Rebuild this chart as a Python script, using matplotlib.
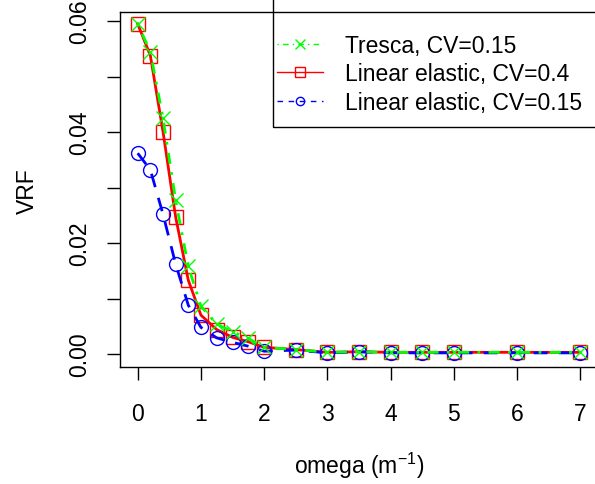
import numpy as np
import matplotlib
matplotlib.use("Agg")
import matplotlib.pyplot as plt
from matplotlib.lines import Line2D
from matplotlib.patches import Rectangle

plt.rcParams['font.family'] = ['Liberation Sans', 'DejaVu Sans']
plt.rcParams['mathtext.default'] = 'regular'

# data
omega = [0, 0.2, 0.4, 0.6, 0.8, 1.0, 1.25, 1.5, 1.75, 2, 2.5, 3, 3.5, 4, 4.5, 5, 6, 7]
vrf_le_04 = [0.0595, 0.0538, 0.0401, 0.0247, 0.0133, 0.0070, 0.0044, 0.0030, 0.0022,
             0.0012, 0.0008, 0.0003, 0.0004, 0.0003, 0.0003, 0.0003, 0.0003, 0.0003]
vrf_tresca = [0.0595, 0.0545, 0.0425, 0.0277, 0.0158, 0.0086, 0.0054, 0.0040, 0.0028,
              0.0012, 0.0008, 0.0003, 0.0004, 0.0003, 0.0003, 0.0003, 0.0003, 0.0003]
vrf_le_015 = [0.0362, 0.0332, 0.0252, 0.0162, 0.0088, 0.0048, 0.0029, 0.0021, 0.0014,
              0.0005, 0.0007, 0.0002, 0.0004, 0.0002, 0.0002, 0.0002, 0.0002, 0.0002]
labels = ["Tresca, CV=0.15", "Linear elastic, CV=0.4", "Linear elastic, CV=0.15"]

fig = plt.figure(figsize=(5.95, 4.85), dpi=100)
ax = fig.add_axes([120 / 595, (485 - 368.3) / 485, 478 / 595, 355 / 485])

fs = 16.5
ax.plot(omega, vrf_le_04, color='#FF0000', lw=2, ls='-', marker='s', ms=10,
        mfc='none', mew=1, zorder=2)
ax.plot(omega, vrf_le_015, color='#0000FF', lw=2, ls=(0, (5, 4)), marker='o', ms=10,
        mfc='none', mew=1, zorder=3)
ax.plot(omega, vrf_tresca, color='#00FF00', lw=2, ls=(0, (1, 3, 4, 3)), marker='x', ms=10,
        mew=1, zorder=4)

ax.set_xlim(-0.28, 7.28)
ax.set_ylim(-0.0024, 0.0616)
ax.set_xticks(range(8))
ax.set_yticks([0.00, 0.02, 0.04, 0.06])
ax.set_yticklabels(["0.00", "0.02", "0.04", "0.06"])
ax.set_yticks([0.01, 0.03, 0.05], minor=True)
ax.tick_params(axis='both', which='both', direction='out', length=9.5, width=1,
               labelsize=fs)
ax.tick_params(axis='x', pad=15.5)
ax.tick_params(axis='y', pad=11)
plt.setp(ax.get_yticklabels(), rotation=90, va='center')
for s in ax.spines.values():
    s.set_linewidth(1)

ax.set_xlabel("omega (m$^{-1}$)", fontsize=fs, labelpad=18)
ax.set_ylabel("VRF", fontsize=fs, labelpad=21)

# legend
handles = [
    Line2D([], [], color='#00FF00', lw=1, ls=(0, (1, 3, 4, 3)), marker='x', ms=7, mew=1),
    Line2D([], [], color='#FF0000', lw=1, ls='-', marker='s', ms=7, mfc='none', mew=1),
    Line2D([], [], color='#0000FF', lw=1, ls=(0, (4, 4)), marker='o', ms=6, mfc='none', mew=1),
]
leg = ax.legend(handles, labels, loc='upper left', bbox_to_anchor=((277 - 120) / 478, (368.3 - 35) / 355),
                frameon=False, fontsize=fs, borderpad=0, borderaxespad=0,
                handlelength=2.0, handletextpad=0.95, labelspacing=0.24)
ax.add_patch(Rectangle(((273 - 120) / 478, (368.3 - 127.7) / 355), 1, 1, transform=ax.transAxes,
                       fill=False, edgecolor='black', lw=1, clip_on=False, zorder=5))

fig.savefig("out.png", dpi=100)
